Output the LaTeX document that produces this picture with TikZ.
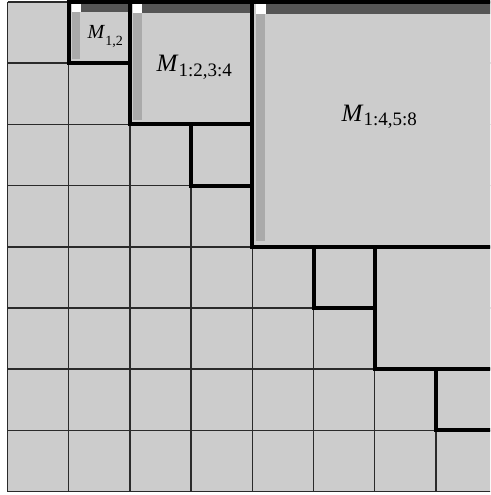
\documentclass[tikz,border=0pt]{standalone}
\usepackage{fontspec}
\setmainfont{Liberation Serif}
\definecolor{cellgray}{HTML}{CCCCCC}
\definecolor{darkbar}{HTML}{555555}
\definecolor{leftbar}{HTML}{AAAAAA}
\definecolor{gridline}{HTML}{2A2A2A}
\begin{document}
\begin{tikzpicture}[x=1pt,y=-1pt,
  gridthin/.style={draw=gridline,line width=1.5pt},
  blockline/.style={draw=black,line width=4pt,line cap=rect,line join=miter},
  lab/.style={anchor=base west,inner sep=0pt,outer sep=0pt},
  corner/.style={fill=white},
  topbar/.style={fill=darkbar},
  sidebar/.style={fill=leftbar}]
\useasboundingbox (0,0) rectangle (490,495);
\clip (0,0) rectangle (490,495);
\foreach \i in {0,...,8}{
  \foreach \j in {0,...,8}{
    \coordinate (g\i\j) at ({7.5+61.2*\i},{2+61.2*\j});
  }
}
% background cells
\fill[cellgray] (g00) rectangle (g88);
% thin grid
\foreach \i in {0,...,8}{
  \draw[gridthin] (g\i0) -- (g\i8);
  \draw[gridthin] (g0\i) -- (g8\i);
}
% block interiors
\fill[cellgray] (g20) rectangle (g42);
\fill[cellgray] (g40) rectangle (g84);
\fill[cellgray] (g64) rectangle (g86);
% decorations block M_{1,2}
\fill[corner] (72,4) rectangle (81,12);
\fill[topbar] (81,4) rectangle (127.5,12);
\fill[sidebar] (72,12) rectangle (80,59);
% decorations block M_{1:2,3:4}
\fill[corner] (132.7,4) rectangle (142,13);
\fill[topbar] (142,4) rectangle (249.5,13);
\fill[sidebar] (132.9,13) rectangle (141.5,120);
% decorations block M_{1:4,5:8}
\fill[corner] (255.7,4) rectangle (265.7,14);
\fill[topbar] (265.7,4) rectangle (500,14);
\fill[sidebar] (256,14) rectangle (265.3,241);
% thick block boundaries
\draw[blockline] (g10) -- (g80);
\draw[blockline] (g10) -- (g11) -- (g21);
\draw[blockline] (g20) -- (g22) -- (g42);
\draw[blockline] (g32) -- (g33) -- (g43);
\draw[blockline] (g40) -- (g44) -- (g84);
\draw[blockline] (g54) -- (g55) -- (g65);
\draw[blockline] (g64) -- (g66) -- (g86);
\draw[blockline] (g76) -- (g77) -- (g87);
% labels
\node[lab] (m12) at (87.7,39) {\fontsize{20}{20}\selectfont\textit{M}\raisebox{-6pt}{\fontsize{14}{14}\selectfont 1,2}};
\node[lab] (m1234) at (156.7,71.7) {\fontsize{25}{25}\selectfont\textit{M}\raisebox{-5pt}{\fontsize{19}{19}\selectfont 1:2,3:4}};
\node[lab] (m1458) at (341.7,121) {\fontsize{25}{25}\selectfont\textit{M}\raisebox{-5pt}{\fontsize{19}{19}\selectfont 1:4,5:8}};
\end{tikzpicture}
\end{document}
